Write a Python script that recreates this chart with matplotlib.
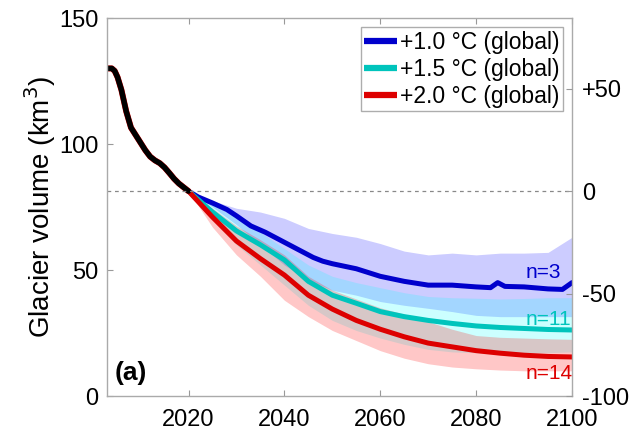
import numpy as np
import matplotlib
matplotlib.use("Agg")
import matplotlib.pyplot as plt

plt.rcParams['font.family'] = ['Liberation Sans', 'DejaVu Sans']
plt.rcParams['lines.solid_joinstyle'] = 'round'
plt.rcParams['lines.solid_capstyle'] = 'round'

# ---- data ----
hist_years = [2003, 2004, 2004.6, 2005.2, 2006, 2007, 2008, 2009, 2010, 2011,
              2012, 2013, 2014, 2015, 2016, 2017, 2018, 2019, 2020]
hist_vol = [130, 130, 129, 126.5, 121.5, 113, 106.5, 103.5, 100.5, 97.5,
            95, 93.5, 92.4, 90.7, 88.5, 86.2, 84.3, 82.8, 81.3]

proj_years = [2020, 2025, 2030, 2035, 2040, 2045, 2050, 2055, 2060, 2065,
              2070, 2075, 2080, 2085, 2090, 2095, 2100]

# +1.0 C (blue) central line is read more finely
blue_years = [2020, 2022, 2025, 2028, 2030, 2033, 2036, 2040, 2043, 2046,
              2048, 2050, 2055, 2060, 2065, 2070, 2075, 2080, 2083, 2084.5,
              2086, 2090, 2095, 2098, 2100]
blue_mid = [81.3, 79, 76.6, 74, 71.5, 67.5, 65, 61, 58, 55,
            53.5, 52.5, 50.5, 47.5, 45.5, 44, 44, 43.3, 43, 45,
            43.5, 43.3, 42.5, 42.3, 45]
blue_hi = [81.3, 77.5, 74.5, 73, 70.5, 66.5, 64.5, 63, 60.5, 57.5,
           56, 56.7, 56, 56.7, 56.7, 57, 63]
blue_lo = [81.3, 75, 68, 60, 52, 46, 42, 40, 37.5, 36,
           34.8, 33.5, 32, 31.5, 31.5, 31.5, 31.5]

cyan_mid = [81.3, 73, 65.5, 60, 54, 45.5, 40, 36.8, 33.5, 31.5,
            30, 28.8, 27.8, 27.2, 26.8, 26.4, 26.2]
cyan_hi = [81.3, 76, 71, 65, 58.5, 52, 47.5, 45, 43, 41,
           39.5, 39, 38.8, 38.5, 38.7, 39, 39]
cyan_lo = [81.3, 70, 60, 52, 44, 36, 30, 26, 23, 20.5,
           18.5, 17.5, 17.2, 17, 17, 17.2, 17.5]

red_mid = [81.3, 71, 61.5, 54.5, 48, 40, 34.5, 30, 26.5, 23.5,
           21, 19.5, 18, 17, 16.2, 15.7, 15.5]
red_hi = [81.3, 74.5, 67.5, 62, 56, 47.5, 42, 38.5, 35, 32.5,
          29.5, 26.5, 24, 23.3, 23, 22.7, 22.5]
red_lo = [81.3, 67, 56, 47.5, 38, 31.5, 26, 22, 18, 15,
          12.8, 11.5, 10.8, 10.3, 10, 10, 10]

ref_vol = 81.3  # 2020 volume, zero of the right axis
labels = ['+1.0 °C (global)', '+1.5 °C (global)', '+2.0 °C (global)']
n_labels = ['n=3', 'n=11', 'n=14']
n_pos = [49, 30.2, 9.1]

fig = plt.figure(figsize=(6.37, 4.32), dpi=100)
ax = fig.add_axes([0.168, 0.0833, 0.730, 0.875])

c_blue, c_cyan, c_red = '#0000cc', '#00c4bc', '#dd0000'

ax.fill_between(proj_years, blue_lo, blue_hi, color='#0000ff', alpha=0.2, lw=0)
ax.fill_between(proj_years, cyan_lo, cyan_hi, color='#00ffff', alpha=0.2, lw=0)
l1, = ax.plot(blue_years, blue_mid, color=c_blue, lw=3.6, label=labels[0])
l2, = ax.plot(proj_years, cyan_mid, color=c_cyan, lw=3.6, label=labels[1])
ax.fill_between(proj_years, red_lo, red_hi, color='#ff0000', alpha=0.22, lw=0)
l3, = ax.plot(proj_years, red_mid, color=c_red, lw=3.6, label=labels[2])
ax.plot(hist_years, hist_vol, color=c_red, lw=4.3)
ax.plot(hist_years, hist_vol, color='black', lw=3.9)

ax.axhline(ref_vol, color='#888888', lw=0.9, ls=(0, (3, 3)))

for txt, yv, c in zip(n_labels, n_pos, [c_blue, c_cyan, c_red]):
    ax.text(2090.3, yv, txt, color=c, fontsize=15, ha='left', va='center')
ax.text(2004.6, 9, '(a)', fontsize=19, fontweight='bold', ha='left', va='center')

ax.set_xlim(2003, 2100)
ax.set_ylim(0, 150)
ax.set_xticks([2020, 2040, 2060, 2080, 2100])
ax.set_yticks([0, 50, 100, 150])
ax.set_ylabel('Glacier volume (km$^3$)', fontsize=20, labelpad=1)
ax.tick_params(direction='in', length=4, width=0.8, color='#999999',
               labelsize=17, top=True, pad=6)
ax.tick_params(axis='x', pad=9)
for s in ax.spines.values():
    s.set_color('#aaaaaa')
    s.set_linewidth(1.0)

ax2 = ax.twinx()
ax2.set_ylim((0 / ref_vol - 1) * 100, (150 / ref_vol - 1) * 100)
ax2.set_yticks([-100, -50, 0, 50])
ax2.set_yticklabels(['-100', '-50', '0', '+50'])
ax2.tick_params(direction='in', length=4, width=0.8, color='#999999',
                labelsize=17, pad=7)
for s in ax2.spines.values():
    s.set_visible(False)

leg = ax.legend(handles=[l1, l2, l3], loc='upper right', fontsize=16.5,
                frameon=True, fancybox=False, edgecolor='#999999',
                handlelength=1.45, handletextpad=0.12, labelspacing=0.18,
                borderpad=0.15, borderaxespad=0.4)
leg.get_frame().set_linewidth(1.0)
for h in leg.get_lines():
    h.set_linewidth(4.5)
    h.set_solid_capstyle('butt')

fig.savefig('out.png', dpi=100)
